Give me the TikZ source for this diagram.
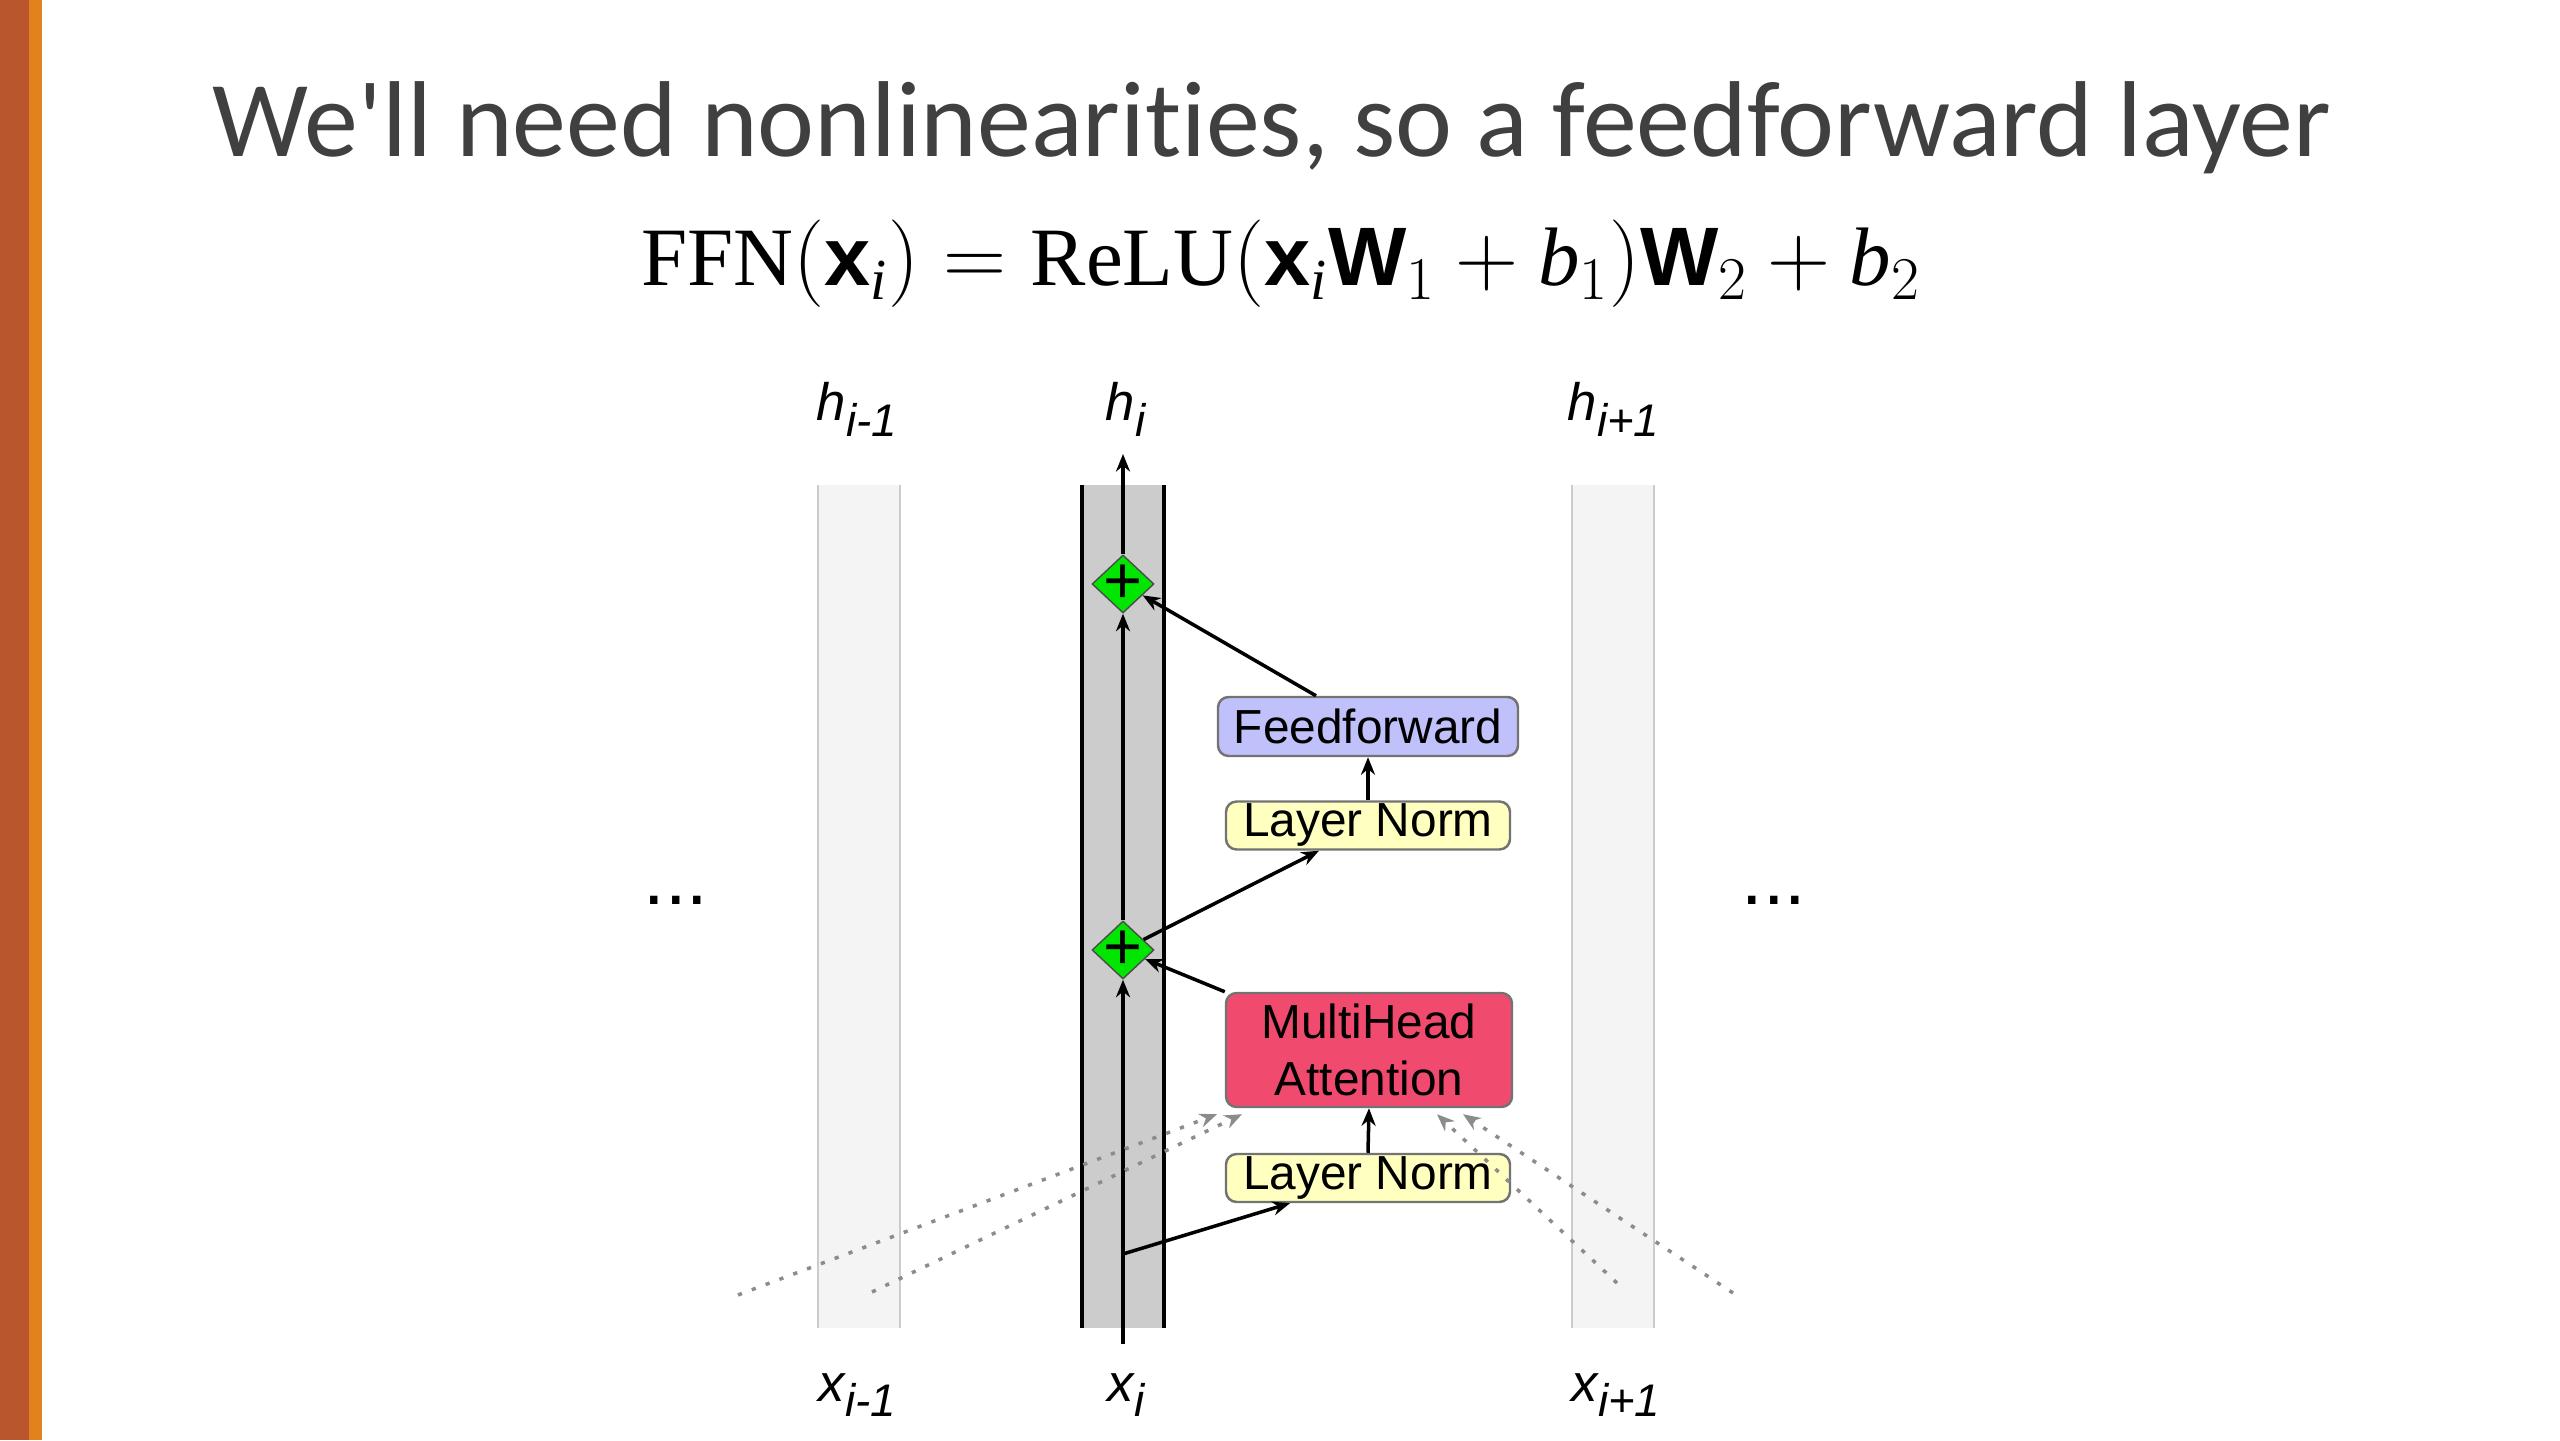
\documentclass[tikz,border=0pt]{standalone}
\usepackage{fontspec}
\setmainfont{Liberation Serif}
\setsansfont{Liberation Sans}
\newfontfamily\titlefont[Ligatures={TeXOff,NoCommon}]{Carlito}
\usetikzlibrary{shapes.geometric,arrows.meta}
\definecolor{barDark}{RGB}{186,86,46}
\definecolor{barLight}{RGB}{226,130,30}
\definecolor{titleGray}{RGB}{64,64,64}
\definecolor{ffBlue}{RGB}{192,192,250}
\definecolor{lnYellow}{RGB}{255,255,192}
\definecolor{mhaRed}{RGB}{240,75,110}
\definecolor{plusGreen}{RGB}{0,230,0}
\definecolor{colGray}{RGB}{204,204,204}
\definecolor{colLight}{RGB}{244,244,244}
\newcommand{\vecx}{\mbox{\sffamily\bfseries x}}
\newcommand{\vecW}{\mbox{\sffamily\bfseries W}}
\newcommand{\sublabel}[2]{{\sffamily\itshape\fontsize{15}{18}\selectfont #1\raisebox{-4.5pt}{\fontsize{13}{15}\selectfont #2}}}

\begin{document}
\begin{tikzpicture}[
    box/.style={draw=black!55, rounded corners=3pt, line width=0.7pt, align=center, inner sep=0pt,
                font=\sffamily\fontsize{13.6}{16}\selectfont},
    ffbox/.style={box, fill=ffBlue, minimum width=3.0cm, minimum height=0.59cm},
    lnbox/.style={box, fill=lnYellow, minimum width=2.84cm, minimum height=0.48cm},
    mhabox/.style={box, fill=mhaRed, minimum width=2.86cm, minimum height=1.14cm},
    plus/.style={diamond, draw=black!70, fill=plusGreen, inner sep=0pt, minimum width=0.62cm, minimum height=0.58cm,
                 label={[inner sep=0pt, font=\sffamily\fontsize{19}{19}\selectfont]center:+}},
    flow/.style={-{Stealth[length=5pt,width=4pt]}, line width=1pt},
    attn/.style={-{Stealth[length=5pt,width=4pt]}, black!45, line width=1pt, dash pattern=on 1.2pt off 3pt},
    tag/.style={anchor=base west, inner sep=0pt}
  ]
  \useasboundingbox (0,0) rectangle (25.6,14.4);
  \fill[barDark] (0,0) rectangle (0.29,14.4);
  \fill[barLight] (0.29,0) rectangle (0.42,14.4);

  \node[anchor=base, text=titleGray, font=\titlefont\fontsize{30.7}{36}\selectfont] (title) at (12.72,12.83)
    {We'll need nonlinearities, so a feedforward layer};
  \node[anchor=base, font=\fontsize{23.6}{28}\selectfont] (ffn) at (12.81,11.54)
    {$\mathrm{FFN}(\vecx_{\mathit{i}}) = \mathrm{ReLU}(\vecx_{\mathit{i}}\vecW_1 + \mathit{b}_1)\vecW_2 + \mathit{b}_2$};

  % columns
  \fill[colLight] (8.18,1.12) rectangle (9.00,9.55);
  \draw[black!20, line width=0.8pt] (8.18,1.12) -- (8.18,9.55) (9.00,1.12) -- (9.00,9.55);
  \fill[colLight] (15.72,1.12) rectangle (16.54,9.55);
  \draw[black!20, line width=0.8pt] (15.72,1.12) -- (15.72,9.55) (16.54,1.12) -- (16.54,9.55);
  \fill[colGray] (10.82,1.12) rectangle (11.64,9.55);
  \draw[line width=0.9pt] (10.82,1.12) -- (10.82,9.55) (11.64,1.12) -- (11.64,9.55);

  \node[tag] (hprev) at (8.16,10.19) {\sublabel{h}{i-1}};
  \node[tag] (hcur) at (11.05,10.19) {\sublabel{h}{i}};
  \node[tag] (hnext) at (15.67,10.19) {\sublabel{h}{i+1}};
  \node[tag] (xprev) at (8.18,0.39) {\sublabel{x}{i-1}};
  \node[tag] (xcur) at (11.07,0.39) {\sublabel{x}{i}};
  \node[tag] (xnext) at (15.71,0.39) {\sublabel{x}{i+1}};

  \node[font=\sffamily\fontsize{22}{24}\selectfont] (dotsL) at (6.76,5.40) {...};
  \node[font=\sffamily\fontsize{22}{24}\selectfont] (dotsR) at (17.74,5.40) {...};

  % block
  \node[plus] (plusA) at (11.23,4.90) {};
  \node[plus] (plusB) at (11.23,8.56) {};
  \node[lnbox] (lnA) at (13.68,2.62) {Layer Norm};
  \node[mhabox] (mha) at (13.69,3.90) {MultiHead\\Attention};
  \node[lnbox] (lnB) at (13.68,6.145) {Layer Norm};
  \node[ffbox] (ff) at (13.68,7.135) {Feedforward};

  \coordinate (xin) at (11.23,0.96);
  \coordinate (split) at (11.23,1.86);
  \coordinate (hout) at (11.23,9.86);
  \draw[flow] (xin) -- (plusA);
  \draw[flow] (plusA) -- (plusB);
  \draw[flow] (plusB) -- (hout);
  \draw[flow] (split) -- ([xshift=-0.78cm]lnA.south);
  \draw[flow] (lnA.north) -- (mha.south);
  \draw[flow] (mha.north west) -- (plusA);
  \draw[flow] (plusA) -- ([xshift=-0.49cm]lnB.south);
  \draw[flow] (lnB.north) -- (ff.south);
  \draw[flow] ([xshift=-0.52cm]ff.north) -- (plusB);

  % attention from neighbours
  \coordinate (pl1) at (7.38,1.45);
  \coordinate (pl2) at (8.72,1.48);
  \coordinate (pr1) at (16.17,1.57);
  \coordinate (pr2) at (17.33,1.47);
  \draw[attn] (pl1) -- ([shift={(-1.52,-0.06)}]mha.south);
  \draw[attn] (pl2) -- ([shift={(-1.27,-0.06)}]mha.south);
  \draw[attn] (pr1) -- ([shift={(0.68,-0.06)}]mha.south);
  \draw[attn] (pr2) -- ([shift={(0.94,-0.06)}]mha.south);
\end{tikzpicture}
\end{document}
